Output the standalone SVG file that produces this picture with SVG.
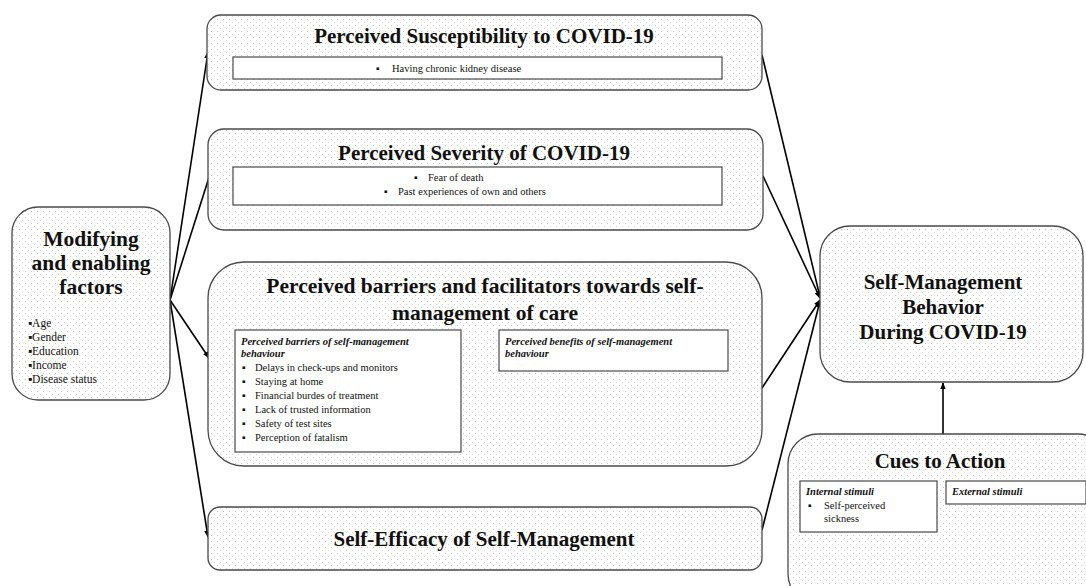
<svg xmlns="http://www.w3.org/2000/svg" width="1086" height="586" viewBox="0 0 1086 586">
<defs>
<pattern id="dots" width="6" height="6" patternUnits="userSpaceOnUse">
<rect width="6" height="6" fill="#ffffff"/>
<rect x="1" y="1" width="1" height="1" fill="#c4c4c4"/>
<rect x="4" y="4" width="1" height="1" fill="#d6d6d6"/>
</pattern>
<marker id="arr" viewBox="0 0 10 10" refX="9" refY="5" markerWidth="7" markerHeight="7" orient="auto" markerUnits="userSpaceOnUse">
<path d="M0,1 L10,5 L0,9 Z" fill="#000"/>
</marker>
</defs>
<style>
.node{fill:url(#dots);stroke:#4a4a4a;stroke-width:1.3}
.inner{fill:#fff;stroke:#4a4a4a;stroke-width:1.2}
.t{font-family:"Liberation Serif","Times New Roman",serif;fill:#111}
.title{font-weight:bold;font-size:21px;text-anchor:middle}
.big{font-size:21.5px}
.small{font-size:10.5px}
.list{font-size:11.5px}
.it{font-style:italic;font-weight:bold;font-size:10.5px}
.c{text-anchor:middle}
.conn{stroke:#000;stroke-width:1.6;fill:none;marker-end:url(#arr)}
</style>
<g id="connectors">
<line class="conn" x1="170" y1="300" x2="208" y2="52"/>
<line class="conn" x1="170" y1="300" x2="212" y2="168"/>
<line class="conn" x1="170" y1="300" x2="209" y2="358"/>
<line class="conn" x1="170" y1="300" x2="208" y2="537"/>
<line class="conn" x1="762" y1="55" x2="820" y2="297"/>
<line class="conn" x1="763" y1="176" x2="820" y2="298"/>
<line class="conn" x1="762" y1="388" x2="820" y2="300"/>
<line class="conn" x1="762" y1="530" x2="820" y2="301"/>
<line class="conn" x1="943" y1="434" x2="943" y2="383"/>
</g>
<g id="modifying">
<rect class="node" x="12" y="207" width="158" height="193" rx="26"/>
<text class="t title big" x="91" y="246">Modifying</text>
<text class="t title big" x="91" y="270">and enabling</text>
<text class="t title big" x="91" y="294">factors</text>
<text class="t list" x="28" y="327">▪Age</text>
<text class="t list" x="28" y="341">▪Gender</text>
<text class="t list" x="28" y="355">▪Education</text>
<text class="t list" x="28" y="369">▪Income</text>
<text class="t list" x="28" y="383">▪Disease status</text>
</g>
<g id="susceptibility">
<rect class="node" x="207" y="15" width="555" height="75" rx="14"/>
<text class="t title" x="484" y="43">Perceived Susceptibility to COVID-19</text>
<rect class="inner" x="233" y="57" width="489" height="22"/>
<text class="t small" x="376" y="72">▪</text>
<text class="t small" x="392" y="72">Having chronic kidney disease</text>
</g>
<g id="severity">
<rect class="node" x="208" y="129" width="555" height="101" rx="16"/>
<text class="t title" x="484" y="160">Perceived Severity of COVID-19</text>
<rect class="inner" x="233" y="167" width="489" height="38"/>
<text class="t small" x="414" y="181">▪</text>
<text class="t small" x="428" y="181">Fear of death</text>
<text class="t small" x="384" y="195">▪</text>
<text class="t small" x="398" y="195">Past experiences  of own and others</text>
</g>
<g id="barriers">
<rect class="node" x="208" y="262" width="554" height="204" rx="36"/>
<text class="t title big" x="485" y="293">Perceived barriers and facilitators towards self-</text>
<text class="t title big" x="485" y="320">management of care</text>
<rect class="inner" x="235" y="330" width="226" height="122"/>
<text class="t it" x="241" y="345">Perceived barriers of self-management</text>
<text class="t it" x="241" y="357">behaviour</text>
<text class="t small" x="242" y="371">▪</text><text class="t small" x="255" y="371">Delays in check-ups and monitors</text>
<text class="t small" x="242" y="385">▪</text><text class="t small" x="255" y="385">Staying at home</text>
<text class="t small" x="242" y="399">▪</text><text class="t small" x="255" y="399">Financial  burdes of treatment</text>
<text class="t small" x="242" y="413">▪</text><text class="t small" x="255" y="413">Lack  of trusted information</text>
<text class="t small" x="242" y="427">▪</text><text class="t small" x="255" y="427">Safety of test sites</text>
<text class="t small" x="242" y="441">▪</text><text class="t small" x="255" y="441">Perception of fatalism</text>
<rect class="inner" x="499" y="330" width="229" height="41"/>
<text class="t it" x="505" y="345">Perceived benefits of self-management</text>
<text class="t it" x="505" y="357">behaviour</text>
</g>
<g id="selfefficacy">
<rect class="node" x="208" y="507" width="554" height="63" rx="12"/>
<text class="t title" x="484" y="546">Self-Efficacy of Self-Management</text>
</g>
<g id="selfmanagement">
<rect class="node" x="820" y="226" width="263" height="156" rx="30"/>
<text class="t title" x="943" y="289">Self-Management</text>
<text class="t title" x="943" y="314">Behavior</text>
<text class="t title" x="943" y="339">During COVID-19</text>
</g>
<g id="cues">
<rect class="node" x="788" y="434" width="320" height="170" rx="30"/>
<text class="t title" x="940" y="468">Cues to Action</text>
<rect class="inner" x="800" y="481" width="137" height="51"/>
<text class="t it" x="806" y="495">Internal stimuli</text>
<text class="t small" x="808" y="509">▪</text><text class="t small" x="824" y="509">Self-perceived</text>
<text class="t small" x="824" y="522">sickness</text>
<rect class="inner" x="946" y="481" width="140" height="23"/>
<text class="t it" x="952" y="495">External stimuli</text>
</g>
</svg>
